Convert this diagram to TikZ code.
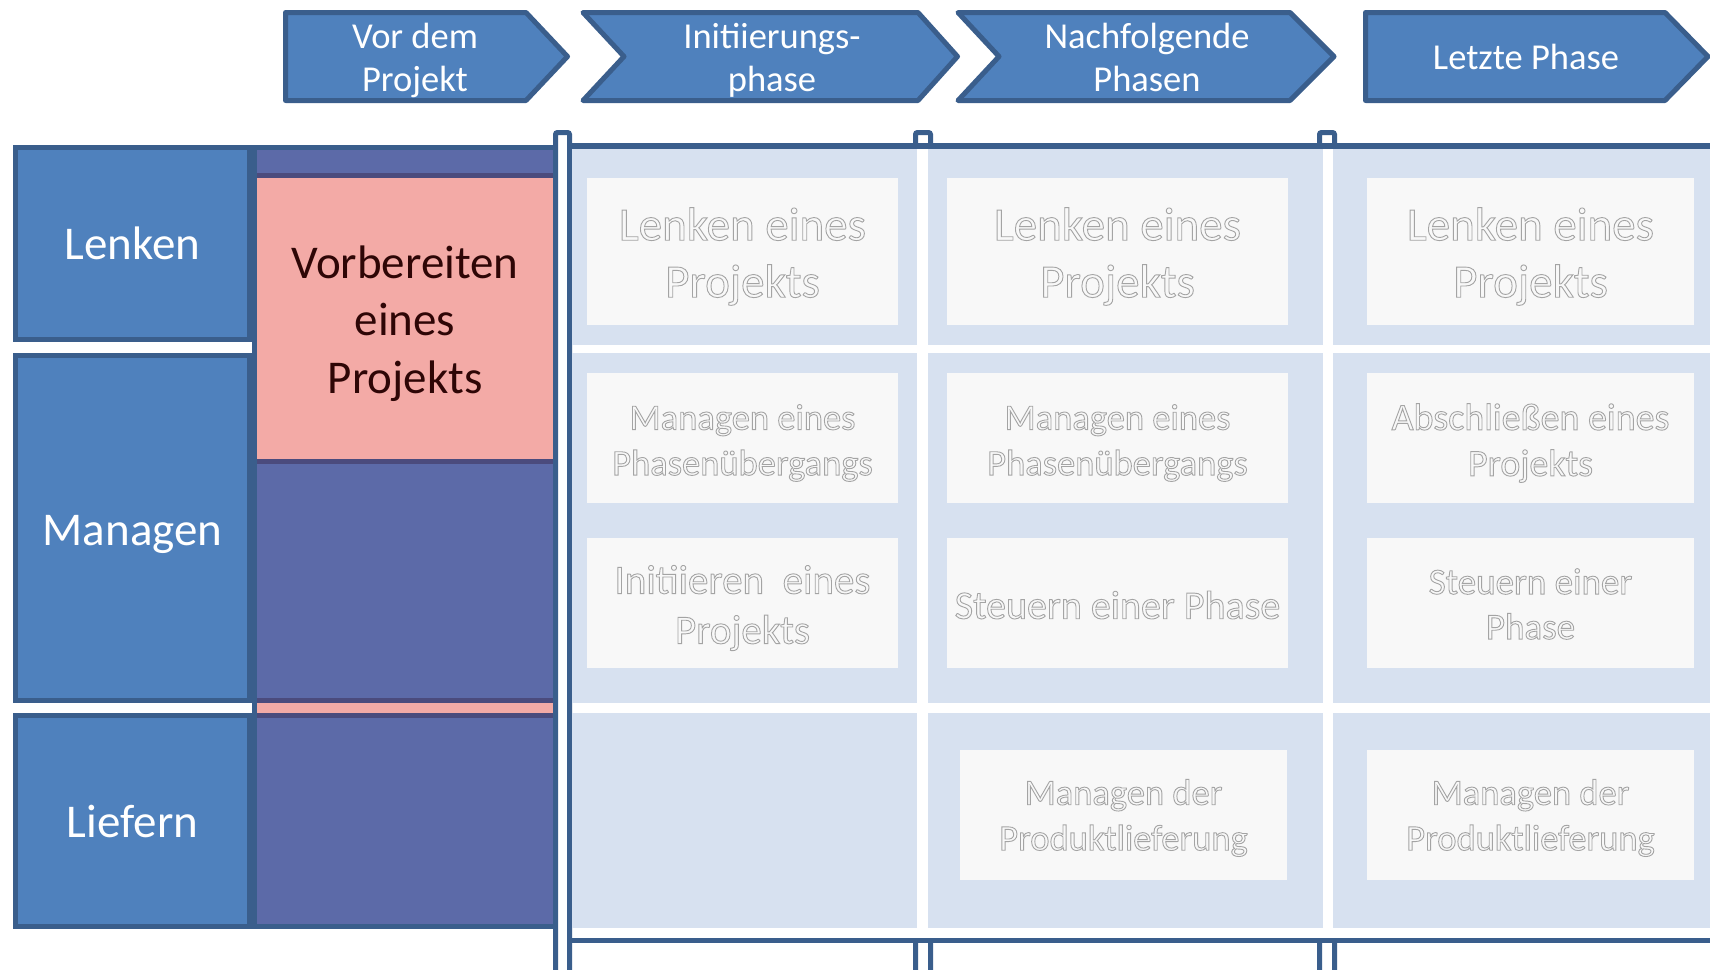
\documentclass[tikz,border=0pt]{standalone}
\usepackage{fontspec}
\setmainfont{Carlito}
\definecolor{hdr}{HTML}{4F81BD}
\definecolor{hdrline}{HTML}{3A5E8C}
\definecolor{lanecol}{HTML}{D7E1F0}
\definecolor{boxcol}{HTML}{F8F8F8}
\definecolor{fadecol}{HTML}{A4A4A4}
\definecolor{hatchcol}{HTML}{5C6AA8}
\definecolor{bandcol}{HTML}{4B4B7D}
\definecolor{pinkcol}{HTML}{F3AAA6}
\definecolor{txtdark}{HTML}{2E0606}
\newcommand{\hollowtext}[1]{\special{pdf:code 1 Tr 0.9 w}#1\special{pdf:code 0 Tr}}
\begin{document}
\begin{tikzpicture}[x=1pt,y=-1pt,
  chev/.style={fill=hdr, draw=hdrline, line width=5pt, line join=round},
  chevtxt/.style={text=white, align=center, inner sep=0pt, font=\fontsize{36.5}{42.5}\selectfont},
  lbl/.style={fill=hdr, draw=hdrline, line width=5pt, inner sep=0pt, minimum width=234pt},
  lbltxt/.style={text=white, inner sep=0pt, font=\fontsize{47}{57}\selectfont},
  barshape/.style={draw=hdrline, line width=5pt, fill=white, rounded corners=2pt},
  frameline/.style={draw=hdrline, line width=5.5pt},
  pbox/.style={fill=boxcol, inner sep=0pt},
  ptxt/.style={text=fadecol, align=center, inner sep=0pt},
  fbig/.style={font=\fontsize{47}{57}\selectfont},
  fmid/.style={font=\fontsize{41}{50}\selectfont},
  fsmall/.style={font=\fontsize{36.5}{45.5}\selectfont},
]
\useasboundingbox (0,0) rectangle (1710,969);
\fill[white] (0,0) rectangle (1710,969);

% header chevrons
\path[chev] (285.5,12.5) -- (526,12.5) -- (567.5,56.5) -- (526,100.5) -- (285.5,100.5) -- cycle;
\path[chev] (583,12.5) -- (918,12.5) -- (957.5,56.5) -- (918,100.5) -- (583,100.5) -- (624,56.5) -- cycle;
\path[chev] (958,12.5) -- (1290,12.5) -- (1334,56.5) -- (1290,100.5) -- (958,100.5) -- (999,56.5) -- cycle;
\path[chev] (1365.5,12.5) -- (1665,12.5) -- (1708,56.5) -- (1665,100.5) -- (1365.5,100.5) -- cycle;
\node[chevtxt] (c1) at (415,60.5) {Vor dem\\Projekt};
\node[chevtxt] (c2) at (772,60.5) {Initiierungs-\\phase};
\node[chevtxt] (c3) at (1147,57.5) {Nachfolgende\\Phasen};
\node[chevtxt] (c4) at (1526,57) {Letzte Phase};

% vertical bars
\path[barshape] (555.5,980) -- (555.5,132.5) -- (569.5,132.5) -- (569.5,980);
\path[barshape] (915.5,980) -- (915.5,132.5) -- (930.5,132.5) -- (930.5,980);
\path[barshape] (1319.5,980) -- (1319.5,132.5) -- (1334.5,132.5) -- (1334.5,980);
\fill[white] (912,149) rectangle (934,937.5);
\fill[white] (1316,149) rectangle (1338,937.5);

% frame lines
\draw[frameline] (567,146) -- (1715,146);
\draw[frameline] (567,940.5) -- (1715,940.5);

% lanes
\foreach \xa/\xb in {572/917, 928/1323, 1333/1715}{
  \foreach \ya/\yb in {149/345, 353/703, 713/928}{
    \fill[lanecol] (\xa,\ya) rectangle (\xb,\yb);
  }
}

% process boxes
\node[pbox, minimum width=311pt, minimum height=147pt] (b2l) at (742.5,251.5) {};
\node[pbox, minimum width=311pt, minimum height=130pt] (b2m) at (742.5,438) {};
\node[pbox, minimum width=311pt, minimum height=130pt] (b2s) at (742.5,603) {};
\node[pbox, minimum width=341pt, minimum height=147pt] (b3l) at (1117.5,251.5) {};
\node[pbox, minimum width=341pt, minimum height=130pt] (b3m) at (1117.5,438) {};
\node[pbox, minimum width=341pt, minimum height=130pt] (b3s) at (1117.5,603) {};
\node[pbox, minimum width=327pt, minimum height=130pt] (b3d) at (1123.5,815) {};
\node[pbox, minimum width=327pt, minimum height=147pt] (b4l) at (1530.5,251.5) {};
\node[pbox, minimum width=327pt, minimum height=130pt] (b4m) at (1530.5,438) {};
\node[pbox, minimum width=327pt, minimum height=130pt] (b4s) at (1530.5,603) {};
\node[pbox, minimum width=327pt, minimum height=130pt] (b4d) at (1530.5,815) {};

\node[ptxt, fbig] (t2l) at ([yshift=-5pt]b2l.center) {\hollowtext{Lenken eines\\Projekts}};
\node[ptxt, fsmall] (t2m) at ([yshift=-5pt]b2m.center) {\hollowtext{Managen eines\\Phasenübergangs}};
\node[ptxt, fmid] (t2s) at ([yshift=-5pt]b2s.center) {\hollowtext{Initiieren\ \ eines\\Projekts}};
\node[ptxt, fbig] (t3l) at ([yshift=-5pt]b3l.center) {\hollowtext{Lenken eines\\Projekts}};
\node[ptxt, fsmall] (t3m) at ([yshift=-5pt]b3m.center) {\hollowtext{Managen eines\\Phasenübergangs}};
\node[ptxt, font=\fontsize{40}{48}\selectfont] (t3s) at ([yshift=-2pt]b3s.center) {\hollowtext{Steuern einer Phase}};
\node[ptxt, fsmall] (t3d) at ([yshift=-3pt]b3d.center) {\hollowtext{Managen der\\Produktlieferung}};
\node[ptxt, fbig] (t4l) at ([yshift=-5pt]b4l.center) {\hollowtext{Lenken eines\\Projekts}};
\node[ptxt, font=\fontsize{38}{46}\selectfont] (t4m) at ([yshift=-5pt]b4m.center) {\hollowtext{Abschließen eines\\Projekts}};
\node[ptxt, font=\fontsize{37}{45}\selectfont] (t4s) at ([yshift=-1pt]b4s.center) {\hollowtext{Steuern einer\\Phase}};
\node[ptxt, fsmall] (t4d) at ([yshift=-3pt]b4d.center) {\hollowtext{Managen der\\Produktlieferung}};

% pre-project column
\draw[line width=5pt, hdrline, fill=hatchcol] (254.5,147.5) rectangle (555.5,926.5);
\fill[bandcol] (257,173) rectangle (553,464);
\fill[bandcol] (257,698) rectangle (553,718);
\fill[pinkcol] (257,703) rectangle (553,713);
\node[fill=pinkcol, minimum width=296pt, minimum height=281pt, inner sep=0pt] (vorb) at (405,318.5) {};
\node[text=txtdark, align=center, inner sep=0pt, font=\fontsize{47}{57.5}\selectfont] (vorbt) at ([yshift=-5pt]vorb.center) {Vorbereiten\\eines\\Projekts};

% lane labels
\node[lbl, minimum height=192pt] (lenken) at (132.5,243.5) {};
\node[lbl, minimum height=345pt] (managen) at (132.5,528) {};
\node[lbl, minimum height=211pt] (liefern) at (132.5,821) {};
\node[lbltxt] (lenkent) at (lenken.center) {Lenken};
\node[lbltxt] (managent) at ([yshift=-6.5pt]managen.center) {Managen};
\node[lbltxt] (liefernt) at (liefern.center) {Liefern};
\end{tikzpicture}
\end{document}
